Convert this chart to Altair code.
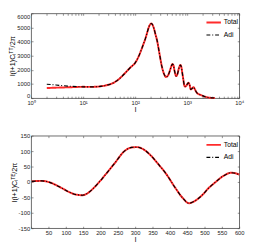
import altair as alt
import pandas as pd

tt_l = [2, 3, 4, 5, 6, 8, 10, 13, 17, 23, 30, 40, 50, 65, 80, 100, 115, 129, 145, 160,
        172, 184, 195, 204, 215, 230, 245, 263, 290, 326, 360, 391, 430, 470, 500, 521,
        545, 570, 615, 650, 690, 720, 742, 770, 800, 840, 880, 910, 960, 1000, 1057,
        1110, 1171, 1240, 1309, 1380, 1450, 1552, 1700, 1920, 2200, 2553, 3000, 3400]
tt_adi = [984, 930, 885, 855, 835, 810, 800, 795, 805, 850, 940, 1120, 1380, 1800, 2150,
          2500, 2900, 3350, 3850, 4300, 4700, 5050, 5230, 5280, 5200, 4920, 4530, 4100,
          3250, 2240, 1700, 1500, 1620, 2000, 2300, 2410, 2320, 1950, 1560, 1700, 2100,
          2280, 2345, 2220, 1850, 1350, 900, 820, 870, 980, 1090, 950, 620, 680, 780, 690,
          520, 360, 270, 190, 100, 45, 15, 5]
tt_total = [715, 740, 755, 765, 775, 795, 800, 795, 805, 850, 940, 1120, 1380, 1800, 2150,
            2500, 2900, 3350, 3850, 4300, 4700, 5050, 5230, 5280, 5200, 4920, 4530, 4100,
            3250, 2240, 1700, 1500, 1620, 2000, 2300, 2410, 2320, 1950, 1560, 1700, 2100,
            2280, 2345, 2220, 1850, 1350, 900, 820, 870, 980, 1090, 950, 620, 680, 780, 690,
            520, 360, 270, 190, 100, 45, 15, 5]

te_l = [2, 15, 30, 45, 60, 75, 92, 110, 130, 148, 165, 180, 195, 215, 241, 269, 290, 305,
        325, 344, 365, 390, 415, 437, 455, 470, 493, 510, 530, 555, 577, 590, 600]
te_adi = [2, 3, 3.5, 1.5, -4, -12, -22, -33, -41, -43, -35, -20, -2, 25, 61, 100, 112, 113,
          105, 87, 60, 25, -18, -52, -69, -63, -43, -22, -2, 20, 30, 28, 24]
te_total = [2, 3, 3.5, 1.5, -4, -12, -22, -33, -41, -43, -35, -20, -2, 25, 61, 100, 112, 113,
            105, 87, 60, 25, -18, -52, -69, -63, -43, -22, -2, 20, 30, 28, 24]

series_names = ["Total", "Adi"]
series_colors = ["#ff2b2b", "#000000"]
series_dash = [[1, 0], [4, 2, 1, 2]]
series_width = [2.0, 1.2]

tt_x_major = [1, 10, 100, 1000, 10000]
tt_x_ticks = [m * 10 ** e for e in range(4) for m in range(1, 10)] + [10000]
tt_y_ticks = [0, 1000, 2000, 3000, 4000, 5000, 6000]
te_x_labels = [50, 100, 150, 200, 250, 300, 350, 400, 450, 500, 550, 600]
te_x_ticks = [0] + te_x_labels
te_y_ticks = [-150, -100, -50, 0, 50, 100, 150]

FONT = "Liberation Sans"
W = 216
H1 = 88
H2 = 96


def make_df(ls, total, adi):
    rows = []
    for name, vals in (("Total", total), ("Adi", adi)):
        for l, v in zip(ls, vals):
            rows.append({"l": l, "v": v, "series": name})
    return pd.DataFrame(rows)


legend = alt.Legend(orient="top-right", title=None, offset=1, labelFont=FONT,
                    labelFontSize=7, symbolType="stroke", symbolSize=225,
                    rowPadding=alt.ExprRef("-3"), padding=0, labelOffset=2,
                    labelColor="#000")


def panel(df, xscale, yscale, xmain, ymain, xticks, yticks, H):
    color = alt.Color("series:N", scale=alt.Scale(domain=series_names, range=series_colors),
                      legend=legend)
    dash = alt.StrokeDash("series:N", scale=alt.Scale(domain=series_names, range=series_dash),
                          legend=legend)
    width = alt.StrokeWidth("series:N", scale=alt.Scale(domain=series_names, range=series_width),
                            legend=legend)
    tot = alt.Chart(df).transform_filter(alt.datum.series == "Total").mark_line(
        interpolate="monotone").encode(
        x=alt.X("l:Q", scale=xscale, axis=xmain),
        y=alt.Y("v:Q", scale=yscale, axis=ymain),
        color=color, strokeDash=dash, strokeWidth=width)
    adi = alt.Chart(df).transform_filter(alt.datum.series == "Adi").mark_line(
        interpolate="monotone").encode(
        x=alt.X("l:Q", scale=xscale, axis=None),
        y=alt.Y("v:Q", scale=yscale, axis=None),
        color=color, strokeDash=dash, strokeWidth=width)

    def tick_axis(orient, offset, values):
        return alt.Axis(orient=orient, offset=offset, values=values, labels=False,
                        ticks=True, tickSize=2, domain=False, grid=False, title=None,
                        minExtent=0)

    tick_a = alt.Chart(df).mark_point(opacity=0, size=1).encode(
        x=alt.X("l:Q", scale=xscale, axis=tick_axis("top", -H, xticks)),
        y=alt.Y("v:Q", scale=yscale, axis=tick_axis("right", -W, yticks)))
    tick_b = alt.Chart(df).mark_point(opacity=0, size=1).encode(
        x=alt.X("l:Q", scale=xscale, axis=tick_axis("bottom", -H, xticks)),
        y=alt.Y("v:Q", scale=yscale, axis=tick_axis("left", -W, yticks)))
    return alt.layer(tot, adi, tick_a, tick_b).resolve_axis(
        x="independent", y="independent").properties(width=W, height=H)


def main_axis(orient, values, title, label_expr, flush=False):
    return alt.Axis(orient=orient, values=values, labelExpr=label_expr, ticks=False,
                    domain=False, grid=False, title=title, labelFont=FONT, titleFont=FONT,
                    labelFontSize=6, titleFontSize=7.5, titleFontWeight="normal",
                    labelPadding=1.5, titlePadding=0, labelFlush=flush, labelColor="#222",
                    titleColor="#000", minExtent=0)


log_label = ("datum.value == 1 ? '10\u2070' : datum.value == 10 ? '10\u00b9' : "
             "datum.value == 100 ? '10\u00b2' : datum.value == 1000 ? '10\u00b3' : '10\u2074'")

tt_df = make_df(tt_l, tt_total, tt_adi)
te_df = make_df(te_l, te_total, te_adi)

top = panel(tt_df,
            alt.Scale(type="log", domain=[1, 10000]),
            alt.Scale(domain=[0, 6000], nice=False),
            main_axis("bottom", tt_x_major, "l", log_label),
            main_axis("left", tt_y_ticks, "l(l+1)C\u2097\u1d40\u1d40/2\u03c0", "datum.value + ''",
                      flush=True),
            tt_x_ticks, tt_y_ticks, H1)

bottom = panel(te_df,
               alt.Scale(domain=[0, 600], nice=False),
               alt.Scale(domain=[-150, 150], nice=False),
               main_axis("bottom", te_x_labels, "l", "datum.value + ''"),
               main_axis("left", te_y_ticks, "l(l+1)C\u2097\u1d40\u1d31/2\u03c0", "datum.value + ''"),
               te_x_ticks, te_y_ticks, H2)

chart = alt.vconcat(top, bottom, spacing=19).resolve_scale(
    color="independent", strokeDash="independent", strokeWidth="independent").properties(
    padding=0).configure(padding=0, background="white").configure_view(
    stroke="#444", strokeWidth=0.8).configure_axis(tickColor="#444", tickWidth=0.6)

chart.save("out.html", embed_options={"renderer": "svg", "actions": False})
